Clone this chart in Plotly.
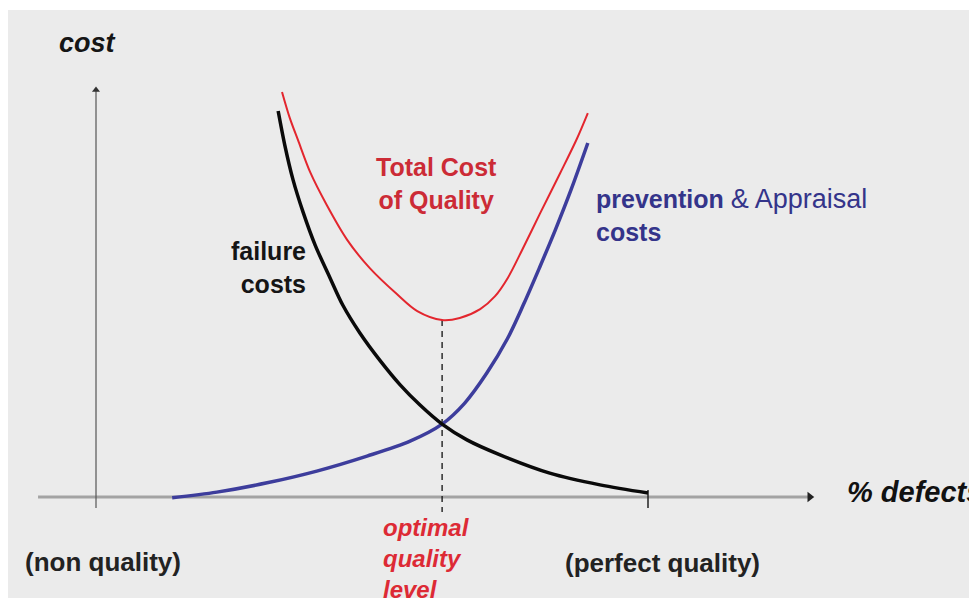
import plotly.graph_objects as go

# ---- data (x: position along the quality axis, 0 = non quality, 100 = perfect quality; y: cost) ----
FAILURE_X = [33.0, 34.2, 35.7, 37.5, 39.7, 42.4, 44.7, 47.8, 51.4, 55.1, 58.7, 62.7, 67.2, 73.2, 82.2, 91.3, 100.0]
FAILURE_Y = [95.3, 86.9, 78.3, 70.4, 62.2, 54.1, 47.4, 40.5, 33.8, 27.7, 22.7, 18.0, 14.1, 10.4, 5.9, 3.0, 1.0]

PREVENTION_X = [13.8, 21.9, 31.0, 40.0, 49.1, 56.9, 62.7, 66.8, 70.8, 74.5, 77.5, 80.4, 83.2, 86.1, 89.1]
PREVENTION_Y = [-0.2, 1.2, 3.5, 6.4, 10.1, 13.8, 18.0, 23.2, 30.6, 39.0, 47.7, 56.8, 65.9, 76.0, 87.4]

TOTAL_X = [33.7, 35.1, 36.6, 38.8, 41.8, 45.5, 49.6, 54.5, 58.2, 62.7, 65.9, 69.6, 72.3, 74.6, 77.2, 80.4, 84.1, 87.1, 89.1]
TOTAL_Y = [100.0, 93.6, 88.1, 80.2, 72.1, 63.5, 56.5, 50.1, 45.9, 43.7, 44.2, 46.4, 49.6, 54.1, 61.0, 69.9, 80.0, 88.4, 94.8]

X_AXIS_EXTENT = [-10.5, 129.3]
Y_AXIS_EXTENT = [-2.7, 100.5]
PERFECT_X = 100.0
TICK_EXTENT = [1.7, -2.7]

# optimal quality level = minimum of the total cost curve
i_min = TOTAL_Y.index(min(TOTAL_Y))
OPT_X = TOTAL_X[i_min]
OPT_Y = TOTAL_Y[i_min]

# the page body has an 8px margin, so the figure is 8px smaller and shifted
OFF = 8
W, H = 977 - OFF, 598 - OFF
FONT = "Liberation Sans, Arial, sans-serif"

def px(x):
    return (x - OFF) / W

def py(y):
    return 1 - (y - OFF) / H

fig = go.Figure()

# axes
fig.add_trace(go.Scatter(x=X_AXIS_EXTENT, y=[0, 0], mode="lines",
                         line=dict(color="#a3a3a3", width=3), hoverinfo="skip"))
fig.add_trace(go.Scatter(x=[0, 0], y=Y_AXIS_EXTENT, mode="lines",
                         line=dict(color="#555555", width=1.2), hoverinfo="skip"))
fig.add_trace(go.Scatter(x=[X_AXIS_EXTENT[1]], y=[0], mode="markers",
                         marker=dict(symbol="triangle-right", size=9, color="#222222"), hoverinfo="skip"))
fig.add_trace(go.Scatter(x=[0], y=[Y_AXIS_EXTENT[1]], mode="markers",
                         marker=dict(symbol="triangle-up", size=7, color="#333333"), hoverinfo="skip"))
fig.add_trace(go.Scatter(x=[PERFECT_X, PERFECT_X], y=TICK_EXTENT, mode="lines",
                         line=dict(color="#222222", width=1.5), hoverinfo="skip"))

# optimal level dashed line
fig.add_trace(go.Scatter(x=[OPT_X, OPT_X], y=[OPT_Y, -3.7], mode="lines",
                         line=dict(color="#111111", width=1.3, dash="6px,5px"), hoverinfo="skip"))

# curves
fig.add_trace(go.Scatter(x=PREVENTION_X, y=PREVENTION_Y, mode="lines",
                         line=dict(color="#3d3d9c", width=3.5, shape="spline", smoothing=0.9),
                         name="prevention & Appraisal costs"))
fig.add_trace(go.Scatter(x=FAILURE_X, y=FAILURE_Y, mode="lines",
                         line=dict(color="#0a0a0a", width=3.5, shape="spline", smoothing=0.9),
                         name="failure costs"))
fig.add_trace(go.Scatter(x=TOTAL_X, y=TOTAL_Y, mode="lines",
                         line=dict(color="#e3262e", width=2, shape="spline", smoothing=0.9),
                         name="Total Cost of Quality"))

ann = []
def text(t, x, y, size, color, xanchor="left", yanchor="middle", align="left"):
    ann.append(dict(text=t, x=px(x), y=py(y), xref="paper", yref="paper",
                    xanchor=xanchor, yanchor=yanchor, align=align, showarrow=False,
                    font=dict(family=FONT, size=size, color=color)))

text("<b><i>cost</i></b>", 57, 43, 27, "#151515")
text("<b>Total Cost<br>of Quality</b>", 436, 183, 25, "#cc2b36", xanchor="center", align="center")
text("<b>failure<br>costs</b>", 308, 268, 25, "#151515", xanchor="right", align="right")
text("<b>prevention</b> <span style='font-size:27px'>&amp; Appraisal</span><br><b>costs</b>",
     594, 215, 25, "#34348a")
text("<b><i>% defects</i></b>", 845, 492, 29, "#111111")
text("<b>(non quality)</b>", 23, 562, 26, "#222222")
text("<b>(perfect quality)</b>", 563, 563, 26, "#222222")
text("<b><i>optimal<br>quality<br>level</i></b>", 381, 512, 24, "#dd2a35", yanchor="top")

fig.update_layout(
    width=W, height=H,
    margin=dict(l=0, r=0, t=0, b=0),
    paper_bgcolor="white",
    plot_bgcolor="rgba(0,0,0,0)",
    showlegend=False,
    xaxis=dict(range=[(OFF - 96) / 5.52, (977 - 96) / 5.52], visible=False, fixedrange=True),
    yaxis=dict(range=[(497 - 598) / 4.05, (497 - OFF) / 4.05], visible=False, fixedrange=True),
    shapes=[dict(type="rect", xref="paper", yref="paper", x0=0, x1=1, y0=0, y1=py(10),
                 fillcolor="#ebebeb", line=dict(width=0), layer="below")],
    annotations=ann,
)

fig.write_html("out.html")
